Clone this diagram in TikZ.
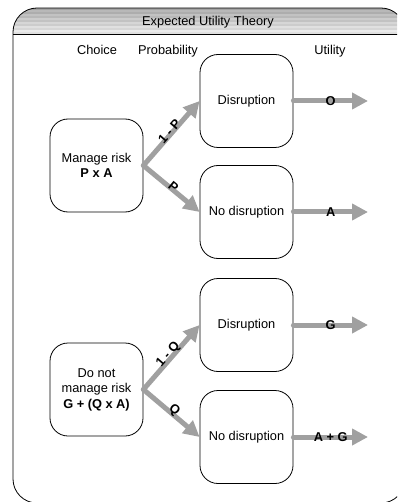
\documentclass[tikz,border=0pt]{standalone}
\usepackage{fontspec}
\setmainfont{Liberation Sans}
\usetikzlibrary{arrows.meta}

\definecolor{arrowgray}{HTML}{A0A0A0}
\newcommand{\diagfont}{\fontsize{12.8}{15.5}\selectfont}

\begin{document}
\begin{tikzpicture}[x=1pt,y=-1pt,font=\diagfont]

      \clip (0,0) rectangle (397,502);

      % striped title bar
      \begin{scope}
        \clip[rounded corners=24pt] (13,8) rectangle (405,503);
        \foreach \i in {0,...,12} {
          \pgfmathsetmacro{\g}{int(36-2*\i-6*mod(\i,2))}
          \fill[black!\g] (0,8+2*\i) rectangle (420,10+2*\i);
        }
      \end{scope}
      \draw[line width=.8pt] (13,34) -- (405,34);
      \draw[line width=.8pt,rounded corners=24pt] (13,8) rectangle (405,503);

      \begin{scope}[every node/.style={anchor=base}]
        \node (title)  at (208,26) {Expected Utility Theory};
        \node (choice) at (97,55)  {Choice};
        \node (prob)   at (168,55) {Probability};
        \node (util)   at (330,55) {Utility};
      \end{scope}

      \begin{scope}[every node/.style={draw, line width=.8pt, rounded corners=18pt,
          minimum width=93pt, minimum height=93pt, align=center}]
        \node (c1) at (96.5,165.5) {Manage risk\\\textbf{P x A}};
        \node (c2) at (96.5,389.5) {Do not\\manage risk\\\textbf{G + (Q x A)}};
        \node (d1) at (246.5,101)  {Disruption};
        \node (n1) at (246.5,212)  {No disruption};
        \node (d2) at (246.5,325)  {Disruption};
        \node (n2) at (246.5,437)  {No disruption};
      \end{scope}

      \coordinate (u1) at (368,101);
      \coordinate (u2) at (368,212);
      \coordinate (u3) at (368,325);
      \coordinate (u4) at (368,437);

      \begin{scope}[every edge/.style={draw=arrowgray, line width=5pt, line cap=round,
          -{Triangle[length=16pt,width=16pt]}}]

        \begin{scope}[every node/.style={font=\diagfont\bfseries, sloped, inner sep=0pt, above=-4pt}]
          \path (c1.east) edge node {1 - P} (d1.west);
          \path (c1.east) edge node {P} (n1.west);
          \path (c2.east) edge node {1 - Q} (d2.west);
          \path (c2.east) edge node {Q} (n2.west);
        \end{scope}

        \begin{scope}[every node/.style={font=\diagfont\bfseries, inner sep=0pt}]
          \path (d1.east) edge node {O} (u1);
          \path (n1.east) edge node {A} (u2);
          \path (d2.east) edge node {G} (u3);
          \path (n2.east) edge node {A + G} (u4);
        \end{scope}
      \end{scope}

    \end{tikzpicture}
\end{document}
